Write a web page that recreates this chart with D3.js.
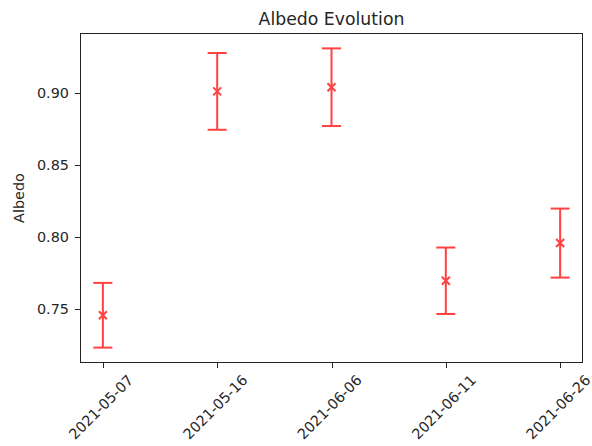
<!DOCTYPE html>
<html>
<head>
<meta charset="utf-8">
<script src="https://cdn.jsdelivr.net/npm/d3@7"></script>
<style>
  body { margin: 0; background: #fff; }
  svg { display: block; font-family: "DejaVu Sans", sans-serif; }
</style>
</head>
<body>
<div id="graph"></div>
<script>
// data
let dates = ["2021-05-07", "2021-05-16", "2021-06-06", "2021-06-11", "2021-06-26"];
let albedo = [0.7455, 0.9012, 0.9041, 0.7695, 0.7957];
let albedoErr = [0.0225, 0.0267, 0.0270, 0.0231, 0.0240];
let yTicks = [0.75, 0.8, 0.85, 0.9];

// set the dimensions and margins of the graph
let margin = { top: 33, right: 9, bottom: 83, left: 80 },
  width = 592 - margin.left - margin.right,
  height = 446 - margin.top - margin.bottom;

let svg = d3
  .select("#graph")
  .append("svg")
  .attr("width", 592)
  .attr("height", 446)
  .append("g")
  .attr("transform", "translate(" + margin.left + "," + margin.top + ")");

// categorical x like matplotlib, 0.05 margin of the 0..4 span on both sides
let x = d3.scalePoint().domain(dates).range([0, width]).padding(0.2);
let y = d3.scaleLinear().domain([0.7123, 0.9418]).range([height, 0]);

// y axis
let yAxis = svg.append("g").attr("id", "yAxis");
yAxis
  .selectAll("line")
  .data(yTicks)
  .join("line")
  .attr("x1", -5)
  .attr("x2", 0)
  .attr("y1", (d) => Math.round(y(d)) + 0.5)
  .attr("y2", (d) => Math.round(y(d)) + 0.5)
  .attr("stroke", "#222");
yAxis
  .selectAll("text")
  .data(yTicks)
  .join("text")
  .attr("x", -11)
  .attr("y", (d) => y(d))
  .attr("dy", "0.36em")
  .attr("text-anchor", "end")
  .attr("fill", "#262626")
  .style("font-size", "14.4px")
  .text(d3.format(".2f"));

// x axis, labels rotated 45 and centred under the tick
let xAxis = svg
  .append("g")
  .attr("id", "xAxis")
  .attr("transform", "translate(0," + height + ")");
xAxis
  .selectAll("line")
  .data(dates)
  .join("line")
  .attr("x1", (d) => Math.round(x(d)) + 0.5)
  .attr("x2", (d) => Math.round(x(d)) + 0.5)
  .attr("y1", 0)
  .attr("y2", 5)
  .attr("stroke", "#222");
xAxis
  .selectAll("text")
  .data(dates)
  .join("text")
  .attr("transform", (d) => "translate(" + (x(d) - 2) + ",44) rotate(-45)")
  .attr("dy", "0.36em")
  .attr("text-anchor", "middle")
  .attr("fill", "#262626")
  .style("font-size", "14.4px")
  .text((d) => d);

// frame
svg
  .append("rect")
  .attr("x", 0.5)
  .attr("y", 0.5)
  .attr("width", width - 1)
  .attr("height", height - 1)
  .attr("fill", "none")
  .attr("stroke", "#222")
  .attr("stroke-width", 1);

// error bars
let red = "#ff2020";
let bars = svg.append("g").attr("opacity", 0.85);
bars
  .selectAll(".stem")
  .data(dates)
  .join("line")
  .attr("x1", (d) => x(d))
  .attr("x2", (d) => x(d))
  .attr("y1", (d, i) => y(albedo[i] + albedoErr[i]))
  .attr("y2", (d, i) => y(albedo[i] - albedoErr[i]))
  .attr("stroke", red)
  .attr("stroke-width", 2);
[1, -1].forEach(function (s) {
  bars
    .selectAll(".cap" + s)
    .data(dates)
    .join("line")
    .attr("x1", (d) => x(d) - 9.5)
    .attr("x2", (d) => x(d) + 9.5)
    .attr("y1", (d, i) => y(albedo[i] + s * albedoErr[i]))
    .attr("y2", (d, i) => y(albedo[i] + s * albedoErr[i]))
    .attr("stroke", red)
    .attr("stroke-width", 2);
});

// x markers
let m = 4;
bars
  .selectAll(".mark")
  .data(dates)
  .join("path")
  .attr("d", function (d, i) {
    let cx = x(d), cy = y(albedo[i]);
    return "M" + (cx - m) + "," + (cy - m) + "L" + (cx + m) + "," + (cy + m) +
      "M" + (cx - m) + "," + (cy + m) + "L" + (cx + m) + "," + (cy - m);
  })
  .attr("stroke", red)
  .attr("stroke-width", 2);

// title and y label
svg
  .append("text")
  .attr("x", width / 2)
  .attr("y", -8)
  .attr("text-anchor", "middle")
  .attr("fill", "#262626")
  .style("font-size", "17.3px")
  .text("Albedo Evolution");
svg
  .append("text")
  .attr("transform", "translate(" + (19 - margin.left) + "," + height / 2 + ") rotate(-90)")
  .attr("dy", "0.36em")
  .attr("text-anchor", "middle")
  .attr("fill", "#262626")
  .style("font-size", "14.4px")
  .text("Albedo");
</script>
</body>
</html>
